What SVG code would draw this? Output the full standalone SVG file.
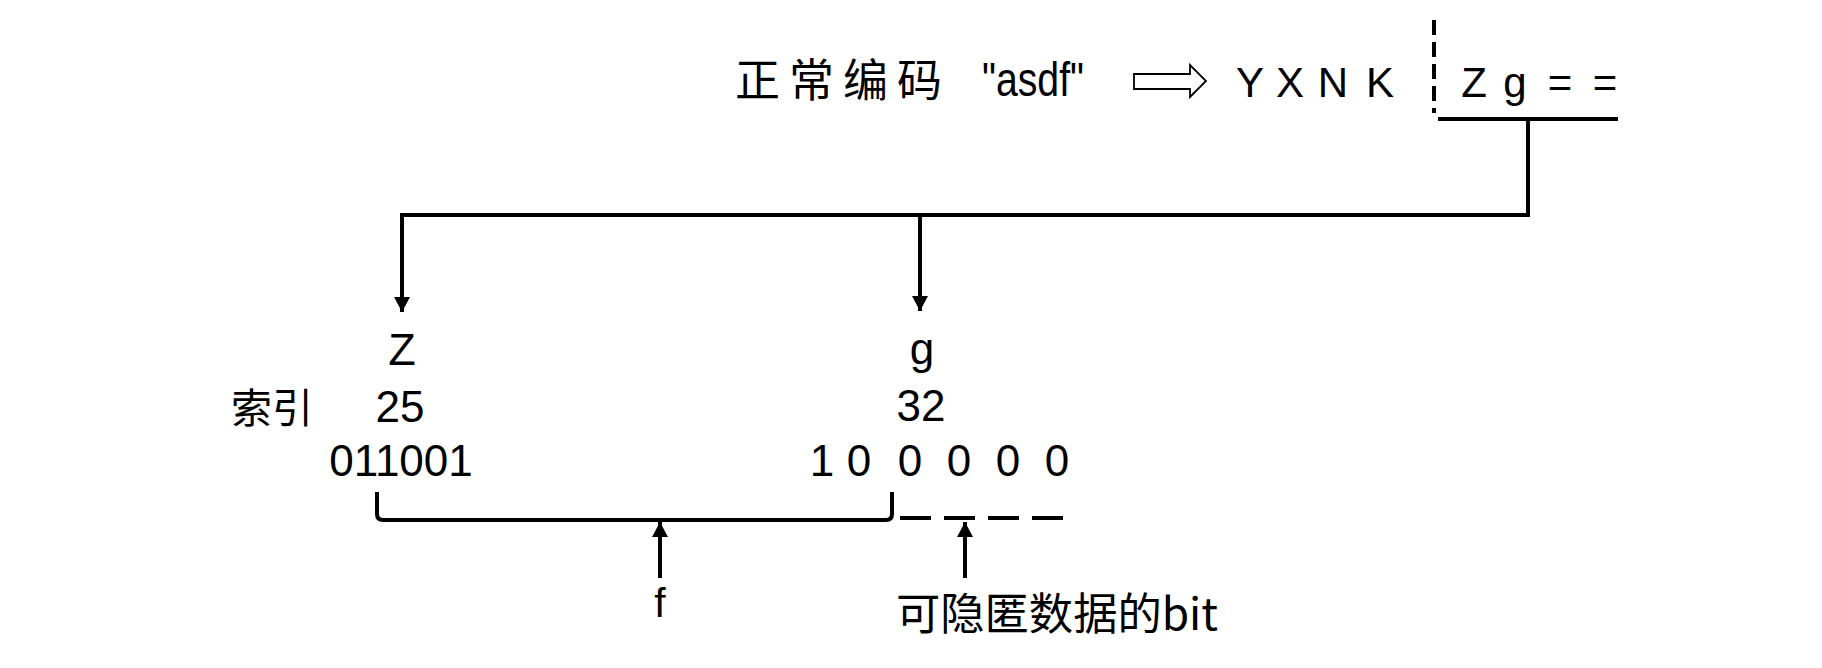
<svg xmlns="http://www.w3.org/2000/svg" width="1822" height="668" viewBox="0 0 1822 668">
<style>
.cjk{font-family:"Noto Sans CJK SC","Noto Sans",sans-serif;fill:#000}
.lat{font-family:"Liberation Sans",Arial,sans-serif;fill:#000}
.ln{stroke:#000;stroke-width:4;fill:none}
.dash{stroke:#000;stroke-width:4;fill:none}
</style>
<defs>
<marker id="ah" markerUnits="userSpaceOnUse" markerWidth="16" markerHeight="16" refX="15" refY="8" orient="auto">
<path d="M0,0 L15,8 L0,16 Z" fill="#000"/>
</marker>
</defs>
<rect width="1822" height="668" fill="#fff"/>

<g id="header">
<text class="cjk" x="735" y="97" font-size="45" letter-spacing="9">正常编码</text>
<text class="lat" x="982" y="96" font-size="49" textLength="102" lengthAdjust="spacingAndGlyphs">"asdf"</text>
</g>
<g id="hollow-arrow">
<polygon points="1134,74 1190,74 1190,65 1206,81 1190,97 1190,89 1134,89" fill="#fff" stroke="#000" stroke-width="1.8" stroke-linejoin="miter"/>
</g>
<g id="encoded">
<text class="lat" y="97" font-size="42" text-anchor="middle"><tspan x="1250">Y</tspan><tspan x="1290">X</tspan><tspan x="1333">N</tspan><tspan x="1380">K</tspan></text>
<line class="dash" x1="1434" y1="20" x2="1434" y2="113" stroke-dasharray="15 7"/>
<text class="lat" y="97" font-size="42" text-anchor="middle"><tspan x="1474">Z</tspan><tspan x="1515">g</tspan><tspan x="1560">=</tspan><tspan x="1605">=</tspan></text>
<line class="ln" x1="1438" y1="119" x2="1618" y2="119"/>
</g>

<g id="node-Z">
<text class="lat" x="402" y="365" font-size="45" text-anchor="middle">Z</text>
<text class="lat" x="400" y="422" font-size="44" text-anchor="middle">25</text>
<text class="lat" x="401" y="476" font-size="44" text-anchor="middle">011001</text>
</g>
<g id="label-index">
<text class="cjk" x="231" y="423" font-size="41">索引</text>
</g>
<g id="node-g">
<text class="lat" x="922" y="364" font-size="44" text-anchor="middle">g</text>
<text class="lat" x="921" y="421" font-size="44" text-anchor="middle">32</text>
<text class="lat" y="476" font-size="44" text-anchor="middle"><tspan x="822">1</tspan><tspan x="859">0</tspan><tspan x="910">0</tspan><tspan x="959">0</tspan><tspan x="1008">0</tspan><tspan x="1057">0</tspan></text>
</g>
<g id="label-f">
<text class="lat" x="660" y="617" font-size="41" text-anchor="middle">f</text>
</g>
<g id="label-bits">
<text class="cjk" x="896" y="630" font-size="44" textLength="322" lengthAdjust="spacingAndGlyphs">可隐匿数据的bit</text>
</g>

<g id="connectors">
<polyline class="ln" points="1528,119 1528,215 402,215 402,312" marker-end="url(#ah)"/>
<line class="ln" x1="920" y1="215" x2="920" y2="311" marker-end="url(#ah)"/>
<path class="ln" d="M377,492 L377,514 Q377,520 383,520 L886,520 Q892,520 892,514 L892,492"/>
<line class="dash" x1="900" y1="518" x2="1064" y2="518" stroke-dasharray="31 13"/>
<line class="ln" x1="660" y1="578" x2="660" y2="522" marker-end="url(#ah)"/>
<line class="ln" x1="965" y1="578" x2="965" y2="522" marker-end="url(#ah)"/>
</g>
</svg>
